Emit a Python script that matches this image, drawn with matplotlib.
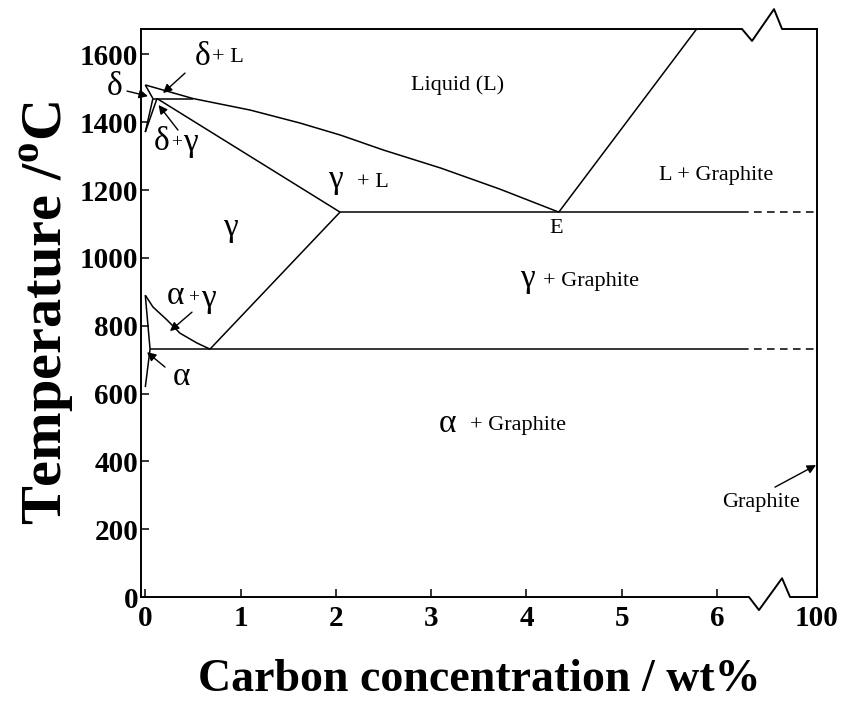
import matplotlib.pyplot as plt
from matplotlib.transforms import blended_transform_factory

plt.rcParams['font.family'] = ['Liberation Serif', 'DejaVu Serif']
plt.rcParams['mathtext.fontset'] = 'custom'
plt.rcParams['mathtext.rm'] = 'Liberation Serif'
plt.rcParams['mathtext.bf'] = 'Liberation Serif:bold'

# --- phase boundaries (wt% C, deg C) ---
liq_x = [0.0, 0.50, 1.10, 1.62, 2.05, 2.50, 3.10, 3.72, 4.34]
liq_t = [1510, 1470, 1436, 1398, 1362, 1318, 1265, 1203, 1135]
liq_gr_x = [4.34, 5.80]
liq_gr_t = [1135, 1680]
delta_sol_x = [0.0, 0.08]
delta_sol_t = [1510, 1470]
delta_gam_x = [0.08, 0.0]
delta_gam_t = [1470, 1371]
gam_delta_x = [0.123, 0.0]
gam_delta_t = [1470, 1371]
peri_x = [0.08, 0.50]
peri_t = [1470, 1470]
gam_sol_x = [0.123, 2.044]
gam_sol_t = [1470, 1135]
acm_x = [2.044, 0.679]
acm_t = [1135, 731]
a3_x = [0.0, 0.081, 0.228, 0.364, 0.542, 0.679]
a3_t = [890, 855, 817, 778, 749, 731]
alpha_x = [0.0, 0.05, 0.0]
alpha_t = [890, 731, 619]
eutectic_x = [2.044, 6.25]
eutectic_t = 1135
eutectoid_x = [0.05, 6.25]
eutectoid_t = 731
X_END = 7.05

xtick_pos = [0, 1, 2, 3, 4, 5, 6, X_END]
xtick_lab = ['0', '1', '2', '3', '4', '5', '6', '100']
ytick_pos = [0, 200, 400, 600, 800, 1000, 1200, 1400, 1600]

fig = plt.figure(figsize=(8.5, 7.05), dpi=100)
ax = fig.add_axes([141 / 850, 108 / 705, 676 / 850, 568 / 705])
ax.set_xlim(-0.045, X_END)
ax.set_ylim(0, 1675)

LW = 1.1
k = dict(color='black', lw=LW, solid_capstyle='butt')
for xs, ts in [(liq_x, liq_t), (liq_gr_x, liq_gr_t), (delta_sol_x, delta_sol_t),
               (delta_gam_x, delta_gam_t), (gam_delta_x, gam_delta_t),
               (peri_x, peri_t), (gam_sol_x, gam_sol_t), (acm_x, acm_t),
               (a3_x, a3_t), (alpha_x, alpha_t)]:
    ax.plot(xs, ts, **k)

for xs, t in [(eutectic_x, eutectic_t), (eutectoid_x, eutectoid_t)]:
    ax.plot(xs, [t, t], **k)
    ax.plot([xs[1], X_END], [t, t], color='black', lw=LW, dashes=(5, 3.5))

# axis frame with breaks
for s in ['top', 'bottom']:
    ax.spines[s].set_visible(False)
for s in ['left', 'right']:
    ax.spines[s].set_linewidth(1.4)
tr = blended_transform_factory(ax.transData, ax.transAxes)
ax.plot([-0.045, 6.263, 6.368, 6.599, 6.683, X_END], [1, 1, 0.979, 1.035, 1, 1],
        color='black', lw=1.4, transform=tr, clip_on=False)
ax.plot([-0.045, 6.336, 6.441, 6.683, 6.767, X_END], [0, 0, -0.023, 0.033, 0, 0],
        color='black', lw=1.4, transform=tr, clip_on=False)

ax.set_xticks(xtick_pos)
ax.set_xticklabels(xtick_lab)
ax.set_yticks(ytick_pos)
ax.tick_params(direction='in', length=6, width=1.1, labelsize=21)
ax.tick_params(axis='x', pad=6)
ax.tick_params(axis='y', pad=2)
ax.tick_params(right=False, top=False)
for lab in ax.get_xticklabels() + ax.get_yticklabels():
    lab.set_fontweight('bold')

ax.set_xlabel('Carbon concentration / wt%', fontsize=33, fontweight='bold', labelpad=19)
ax.set_ylabel('Temperature /$^{\\mathbf{o}}$C', fontsize=42, fontweight='bold', labelpad=2)

# region labels
G = 24
S = 16
ax.text(3.28, 1510, 'Liquid (L)', fontsize=S, ha='center', va='center')
ax.text(5.99, 1244, 'L + Graphite', fontsize=S, ha='center', va='center')
ax.text(0.889, 1088, 'γ', fontsize=G, ha='center', va='center')
ax.text(1.99, 1230, 'γ', fontsize=G, ha='center', va='center')
ax.text(2.22, 1221, '+ L', fontsize=S, ha='left', va='center')
ax.text(4.31, 1088, 'E', fontsize=S, ha='center', va='center')
ax.text(4.01, 938, 'γ', fontsize=G, ha='center', va='center')
ax.text(4.17, 930, '+ Graphite', fontsize=S, ha='left', va='center')
ax.text(3.17, 512, 'α', fontsize=G, ha='center', va='center')
ax.text(3.41, 507, '+ Graphite', fontsize=S, ha='left', va='center')
ax.text(0.312, 888, 'α', fontsize=G, ha='center', va='center')
ax.text(0.511, 882, '+', fontsize=14, ha='center', va='center')
ax.text(0.658, 880, 'γ', fontsize=G, ha='center', va='center')
ax.text(0.375, 650, 'α', fontsize=G, ha='center', va='center')
ax.text(-0.318, 1505, 'δ', fontsize=G, ha='center', va='center')
ax.text(0.606, 1592, 'δ', fontsize=G, ha='center', va='center')
ax.text(0.70, 1592, '+ L', fontsize=S, ha='left', va='center')
ax.text(0.175, 1342, 'δ', fontsize=G, ha='center', va='center')
ax.text(0.333, 1339, '+', fontsize=14, ha='center', va='center')
ax.text(0.469, 1340, 'γ', fontsize=G, ha='center', va='center')
ax.text(6.46, 280, 'Graphite', fontsize=S, ha='center', va='center')

arrows = [((-0.192, 1492), (0.028, 1477)),
          ((0.417, 1545), (0.186, 1486)),
          ((0.343, 1377), (0.139, 1451)),
          ((0.490, 840), (0.259, 784)),
          ((0.207, 678), (0.018, 722)),
          ((6.609, 324), (7.04, 389))]
for tail, head in arrows:
    ax.annotate('', xy=head, xytext=tail, annotation_clip=False,
                arrowprops=dict(arrowstyle='-|>', color='black', lw=1.0,
                                mutation_scale=13, shrinkA=0, shrinkB=0))

fig.savefig('out.png', dpi=100)
